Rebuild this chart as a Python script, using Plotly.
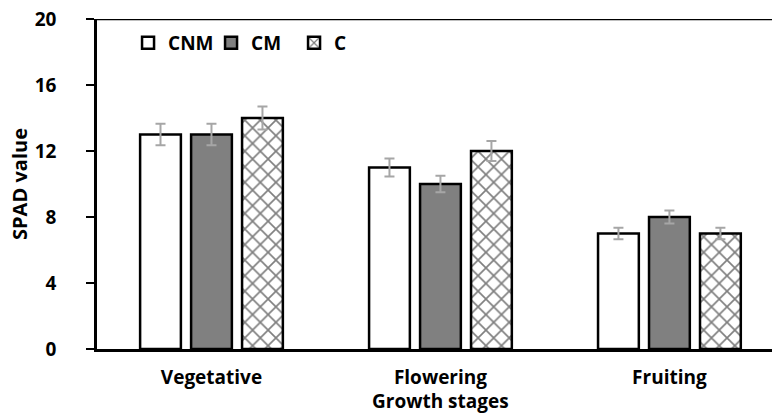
import plotly.graph_objects as go

stages = ["Vegetative", "Flowering", "Fruiting"]
cnm = [13, 11, 7]
cm = [13, 10, 8]
c = [14, 12, 7]
cnm_err = [0.65, 0.55, 0.35]
cm_err = [0.65, 0.5, 0.4]
c_err = [0.7, 0.6, 0.35]
y_ticks = [0, 4, 8, 12, 16, 20]

FONT = "Open Sans"
err_style = dict(type="data", color="#a6a6a6", thickness=2, width=5)

fig = go.Figure()
fig.add_trace(go.Bar(name="CNM", x=stages, y=cnm,
                     error_y=dict(array=cnm_err, **err_style),
                     marker=dict(color="white", line=dict(color="black", width=2.5))))
fig.add_trace(go.Bar(name="CM", x=stages, y=cm,
                     error_y=dict(array=cm_err, **err_style),
                     marker=dict(color="#808080", line=dict(color="black", width=2.5))))
fig.add_trace(go.Bar(name="C", x=stages, y=c,
                     error_y=dict(array=c_err, **err_style),
                     marker=dict(color="white", line=dict(color="black", width=2.5),
                                 pattern=dict(shape="x", fgcolor="black", bgcolor="white",
                                              size=11, solidity=0.28))))

bold = dict(family=FONT, size=20, color="black", weight=700)

fig.update_layout(
    width=772, height=415,
    margin=dict(l=97, r=0, t=19, b=66),
    paper_bgcolor="white", plot_bgcolor="white",
    barmode="group", bargap=0.332, bargroupgap=0.2,
    font=bold,
    showlegend=True,
    legend=dict(orientation="h", x=0.046, y=0.985, xanchor="left", yanchor="top",
                font=dict(family=FONT, size=19, color="black", weight=700),
                bgcolor="rgba(0,0,0,0)", itemwidth=30, tracegroupgap=0,
                entrywidth=38, entrywidthmode="pixels"),
)
fig.update_xaxes(
    type="category", range=[-0.5, 2.448],
    showline=True, linecolor="black", linewidth=2.5,
    ticks="", showgrid=False,
    tickfont=dict(family=FONT, size=19, color="black", weight=700),
    ticklabelstandoff=9,
)
fig.update_yaxes(
    range=[0, 20], tickvals=y_ticks,
    showline=True, linecolor="black", linewidth=2.5,
    ticks="outside", ticklen=8, tickwidth=1.5, tickcolor="black",
    showgrid=False, zeroline=False,
    tickfont=dict(family=FONT, size=19, color="black", weight=700),
    ticklabelstandoff=26,
    title=dict(text="SPAD value", font=dict(family=FONT, size=20, color="black", weight=700),
               standoff=2),
)
fig.add_shape(type="line", xref="paper", yref="y", x0=0, x1=1, y0=20, y1=20,
              line=dict(color="black", width=2.5))
fig.add_annotation(text="Growth stages", xref="x", yref="paper", x="Flowering", y=-0.2,
                   yanchor="bottom", showarrow=False, borderpad=0,
                   font=dict(family=FONT, size=19, color="black", weight=700))

fig.write_html("out.html")
